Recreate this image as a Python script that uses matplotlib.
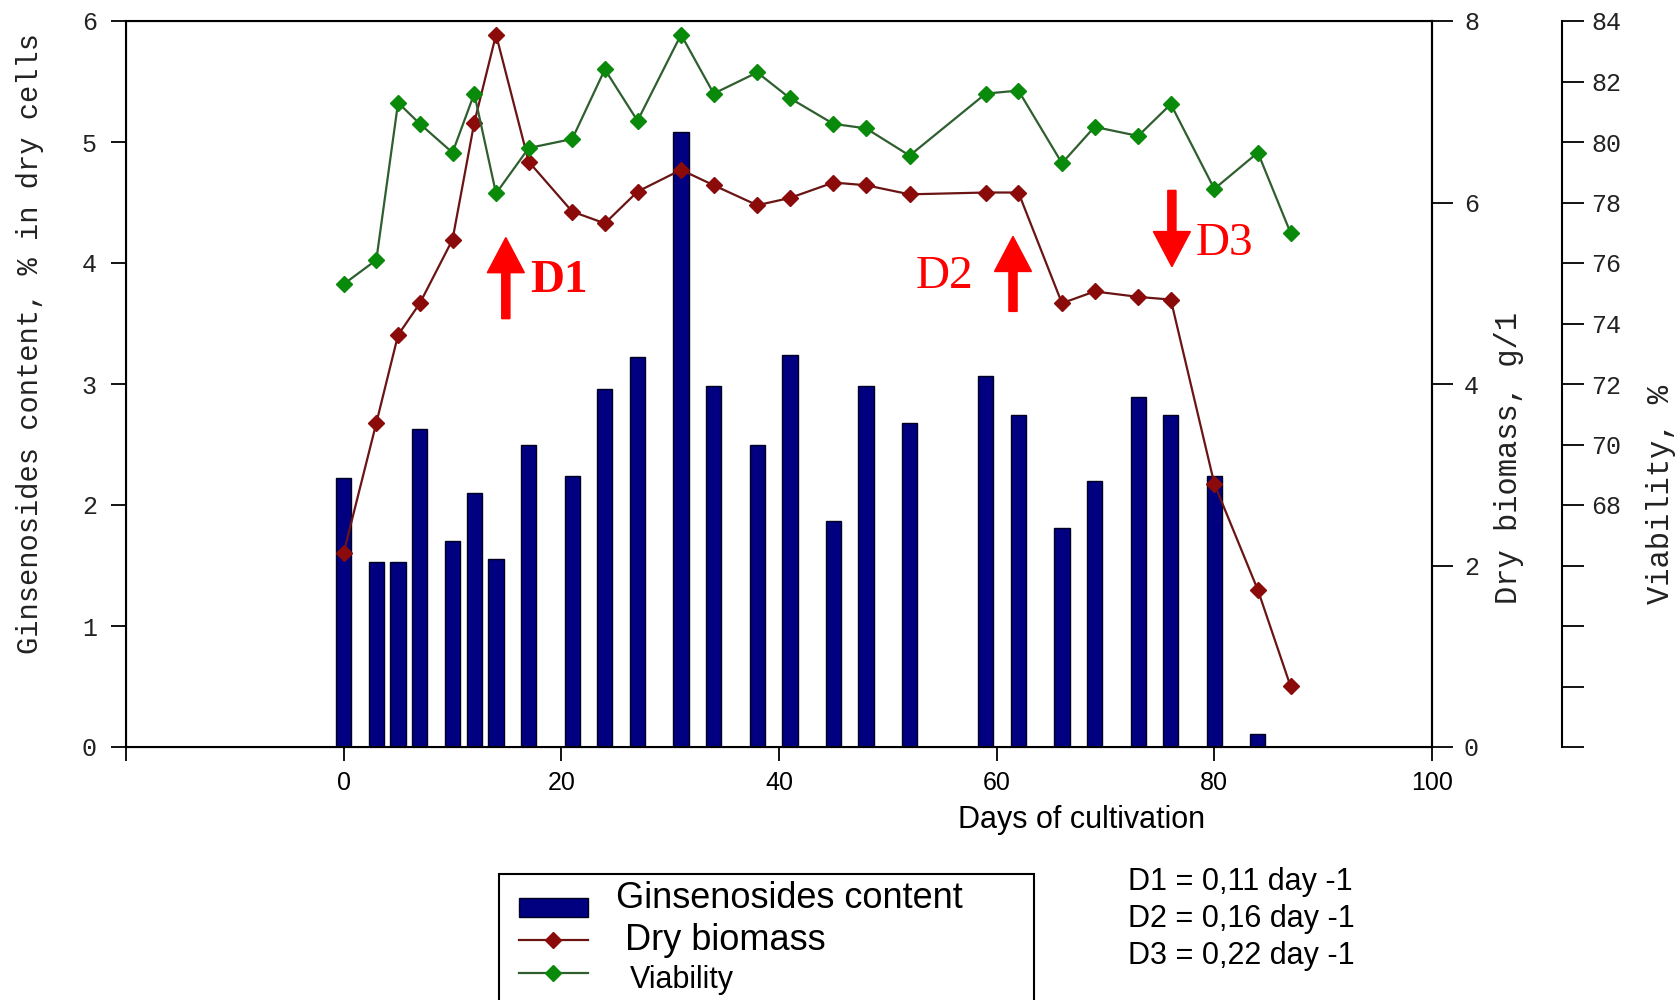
import matplotlib
matplotlib.use("Agg")
import matplotlib.pyplot as plt
from matplotlib.patches import Rectangle, FancyArrow
from matplotlib.lines import Line2D

# ---------------- data ----------------
bar_days = [0, 3, 5, 7, 10, 12, 14, 17, 21, 24, 27, 31, 34, 38, 41, 45, 48, 52,
            59, 62, 66, 69, 73, 76, 80, 84]
ginsenosides = [2.22, 1.53, 1.53, 2.63, 1.70, 2.10, 1.55, 2.50, 2.24, 2.96, 3.22,
                5.08, 2.98, 2.50, 3.24, 1.87, 2.98, 2.68, 3.07, 2.74, 1.81, 2.20,
                2.89, 2.74, 2.24, 0.11]

line_days = [0, 3, 5, 7, 10, 12, 14, 17, 21, 24, 27, 31, 34, 38, 41, 45, 48, 52,
             59, 62, 66, 69, 73, 76, 80, 84, 87]
dry_biomass = [2.14, 3.57, 4.54, 4.89, 5.59, 6.88, 7.85, 6.45, 5.90, 5.77, 6.12,
               6.36, 6.19, 5.97, 6.05, 6.22, 6.19, 6.09, 6.11, 6.11, 4.89, 5.02,
               4.96, 4.93, 2.90, 1.73, 0.67]
viability = [75.3, 76.1, 81.3, 80.6, 79.65, 81.6, 78.3, 79.8, 80.1, 82.4, 80.7,
             83.55, 81.6, 82.3, 81.45, 80.6, 80.45, 79.55, 81.6, 81.7, 79.3, 80.5,
             80.2, 81.25, 78.45, 79.65, 77.0]

x_ticks = [-20, 0, 20, 40, 60, 80, 100]
x_tick_labels = ["", "0", "20", "40", "60", "80", "100"]
left_ticks = [0, 1, 2, 3, 4, 5, 6]
right_ticks = [0, 2, 4, 6, 8]
via_ticks = [60, 62, 64, 66, 68, 70, 72, 74, 76, 78, 80, 82, 84]
via_tick_labels = ["", "", "", "", "68", "70", "72", "74", "76", "78", "80", "82", "84"]

# annotations: (label, arrow x, arrow tail y, arrow tip y, text x, text y, bold)
marks = [("D1", 14.9, 3.54, 4.21, 17.1, 3.85, True),
         ("D2", 61.5, 3.60, 4.22, 52.6, 3.89, False),
         ("D3", 76.1, 4.60, 3.97, 78.3, 4.16, False)]
rates = ["D1 = 0,11 day -1", "D2 = 0,16 day -1", "D3 = 0,22 day -1"]

# ---------------- figure ----------------
MONO = "Liberation Mono"
SANS = "Liberation Sans"
SERIF = "Liberation Serif"
TXT = "#222222"

fig = plt.figure(figsize=(16.8, 10), dpi=100)
ax = fig.add_axes([126 / 1680, 1 - 747 / 1000, (1432 - 126) / 1680, (747 - 21) / 1000])
ax2 = ax.twinx()
ax3 = ax.twinx()

bar_color = "#000080"
ax.bar(bar_days, ginsenosides, width=1.4, color=bar_color, edgecolor="#000020",
       linewidth=1.0, zorder=2)
ax.set_xlim(-20, 100)
ax.set_ylim(0, 6)
ax.set_xticks(x_ticks)
ax.set_xticklabels(x_tick_labels)
ax.set_yticks(left_ticks)
ax.set_yticklabels([str(t) for t in left_ticks])
ax.tick_params(axis="y", direction="out", length=11, width=1.3, pad=10,
               labelsize=18, labelfontfamily=MONO, labelcolor=TXT)
ax.tick_params(axis="x", direction="out", length=10, width=1.3, pad=7,
               labelsize=18, labelfontfamily=SANS)
for s in ax.spines.values():
    s.set_linewidth(1.5)

ax2.plot(line_days, dry_biomass, color="#6a1414", linewidth=1.6, marker="D",
         markersize=8.5, markerfacecolor="#8b0a0a", markeredgecolor="#8b0a0a",
         zorder=3)
ax2.set_ylim(0, 8)
ax2.set_yticks(right_ticks)
ax2.set_yticklabels([str(t) for t in right_ticks])
ax2.tick_params(axis="y", direction="out", length=15, width=1.3, pad=8,
                labelsize=18, labelfontfamily=MONO, labelcolor=TXT)
ax2.spines["right"].set_linewidth(1.5)

ax3.plot(line_days, viability, color="#2f5f2f", linewidth=1.6, marker="D",
         markersize=8.5, markerfacecolor="#0a8a0a", markeredgecolor="#0a8a0a",
         zorder=3)
ax3.set_ylim(60, 84)
ax3.set_yticks(via_ticks)
ax3.set_yticklabels(via_tick_labels)
ax3.tick_params(axis="y", direction="out", length=16, width=1.3, pad=5,
                labelsize=18, labelfontfamily=MONO, labelcolor=TXT)
ax3.spines["right"].set_position(("axes", (1562 - 126) / (1432 - 126)))
ax3.spines["right"].set_linewidth(1.5)
for s in ["top", "bottom", "left"]:
    ax3.spines[s].set_visible(False)

# axis labels
ax.text(-0.0735, 0.556, "Ginsenosides content, % in dry cells", transform=ax.transAxes,
        rotation=90, ha="center", va="center", fontfamily=MONO, fontsize=20.7,
        color=TXT)
ax.text(1.059, 0.398, "Dry biomass, g/1", transform=ax.transAxes, rotation=90,
        ha="center", va="center", fontfamily=MONO, fontsize=22, color=TXT)
ax.text(1.175, 0.348, "Viability, %", transform=ax.transAxes, rotation=90,
        ha="center", va="center", fontfamily=MONO, fontsize=22, color=TXT)
fig.text(1082 / 1680, 1 - 820 / 1000, "Days of cultivation", ha="center", va="center",
         fontfamily=SANS, fontsize=22)

# D annotations
for lab, axx, y0, y1, tx, ty, bold in marks:
    hl = 0.29
    dy = y1 - y0
    arr = FancyArrow(axx, y0, 0, dy, width=0.75, head_width=3.4, head_length=hl,
                     length_includes_head=True, color="red", zorder=5)
    ax.add_patch(arr)
    ax.text(tx, ty, lab, ha="left", va="center", fontfamily=SERIF, fontsize=34,
            color="red", fontweight="bold" if bold else "normal", zorder=5)

# legend (manual, clipped at bottom of figure)
fig.add_artist(Rectangle((499 / 1680, -0.05), (1034 - 499) / 1680, 0.05 + 0.126,
                         transform=fig.transFigure, fill=False, edgecolor="black",
                         linewidth=1.5))
fig.add_artist(Rectangle((519 / 1680, 1 - 917 / 1000), (588 - 519) / 1680, 19 / 1000,
                         transform=fig.transFigure, facecolor=bar_color,
                         edgecolor="#000020", linewidth=1))
fig.add_artist(Line2D([519 / 1680, 588 / 1680], [1 - 940 / 1000] * 2,
                      transform=fig.transFigure, color="#6a1414", linewidth=1.6))
fig.add_artist(Line2D([553 / 1680], [1 - 940 / 1000], transform=fig.transFigure,
                      marker="D", markersize=8.5, color="#8b0a0a", linestyle="none"))
fig.add_artist(Line2D([519 / 1680, 588 / 1680], [1 - 973 / 1000] * 2,
                      transform=fig.transFigure, color="#2f5f2f", linewidth=1.6))
fig.add_artist(Line2D([553 / 1680], [1 - 973 / 1000], transform=fig.transFigure,
                      marker="D", markersize=8.5, color="#0a8a0a", linestyle="none"))
fig.text(616 / 1680, 1 - 898 / 1000, "Ginsenosides content", ha="left", va="center",
         fontfamily=SANS, fontsize=26)
fig.text(625 / 1680, 1 - 941 / 1000, "Dry biomass", ha="left", va="center",
         fontfamily=SANS, fontsize=26)
fig.text(630 / 1680, 1 - 980 / 1000, "Viability", ha="left", va="center",
         fontfamily=SANS, fontsize=22)

for i, r in enumerate(rates):
    fig.text(1128 / 1680, 1 - (882 + 37 * i) / 1000, r, ha="left", va="center",
             fontfamily=SANS, fontsize=22)

fig.savefig("out.png", dpi=100)
